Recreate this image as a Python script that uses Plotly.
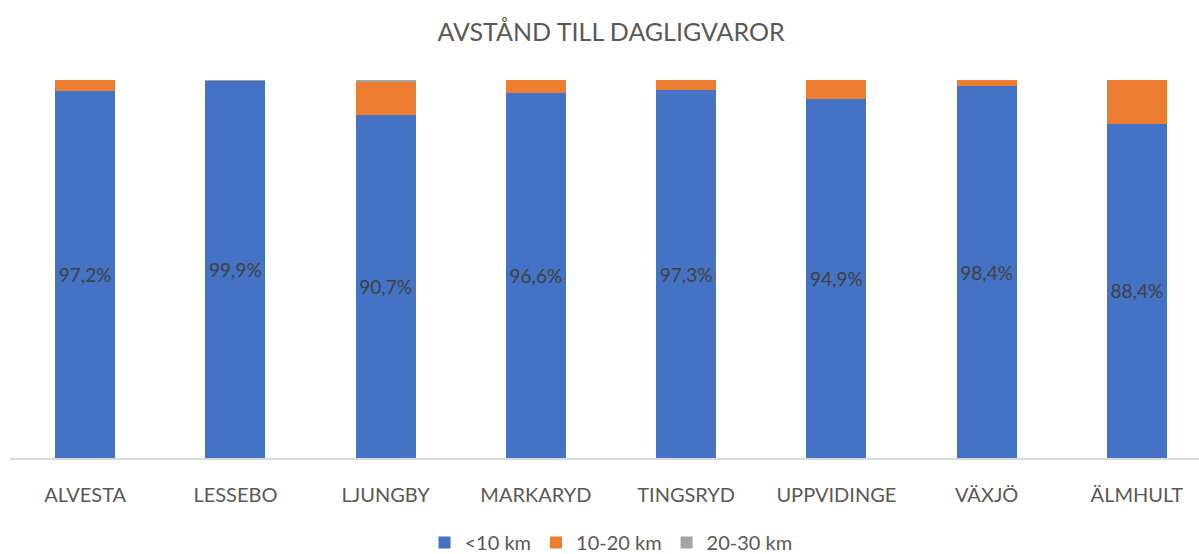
import plotly.graph_objects as go

categories = ["ALVESTA", "LESSEBO", "LJUNGBY", "MARKARYD", "TINGSRYD", "UPPVIDINGE", "VÄXJÖ", "ÄLMHULT"]
under_10 = [97.2, 99.9, 90.7, 96.6, 97.3, 94.9, 98.4, 88.4]
km_10_20 = [2.8, 0.05, 8.7, 3.4, 2.7, 5.1, 1.6, 11.6]
km_20_30 = [0.0, 0.05, 0.6, 0.0, 0.0, 0.0, 0.0, 0.0]

FONT = "Lato, 'Open Sans', sans-serif"
GREY = "#595959"
W, H = 1220, 570

def fmt(v):
    return f"{v:.1f}".replace(".", ",") + "%"

fig = go.Figure()
fig.add_trace(go.Bar(
    name="<10 km", x=categories, y=under_10, marker_color="#4472C4",
    marker_line_width=0,
    text=[fmt(v) for v in under_10], textposition="inside", insidetextanchor="middle",
    textfont=dict(family=FONT, size=19, color="#404040"), textangle=0,
))
fig.add_trace(go.Bar(
    name="10-20 km", x=categories, y=km_10_20, marker_color="#ED7D31",
    marker_line_width=0, textposition="none",
))
fig.add_trace(go.Bar(
    name="20-30 km", x=categories, y=km_20_30, marker_color="#A5A5A5",
    marker_line_width=0, textposition="none",
))

fig.update_layout(
    barmode="stack",
    bargap=0.6,
    width=W, height=H,
    margin=dict(l=10, r=W - 1212, t=80, b=H - 460),
    paper_bgcolor="white", plot_bgcolor="white",
    title=dict(text="AVSTÅND TILL DAGLIGVAROR", x=0.5, xref="paper", xanchor="center",
               y=1 - 32 / H, yanchor="middle",
               font=dict(family=FONT, size=25, color=GREY)),
    font=dict(family=FONT, color=GREY),
    legend=dict(orientation="h", x=0.5, xanchor="center", y=-85 / 380, yanchor="middle",
                font=dict(family=FONT, size=20, color=GREY), traceorder="normal"),
    uniformtext=dict(mode=False),
)
fig.update_xaxes(showline=True, linecolor="#D9D9D9", linewidth=1.5, ticks="",
                 ticklabelstandoff=18,
                 tickfont=dict(family=FONT, size=20, color=GREY), showgrid=False)
fig.update_yaxes(range=[0, 100], showticklabels=False, showgrid=False, zeroline=False)

fig.write_html("out.html", config={"displayModeBar": False},
               post_script="document.body.style.margin='0';document.body.style.overflow='hidden';")
